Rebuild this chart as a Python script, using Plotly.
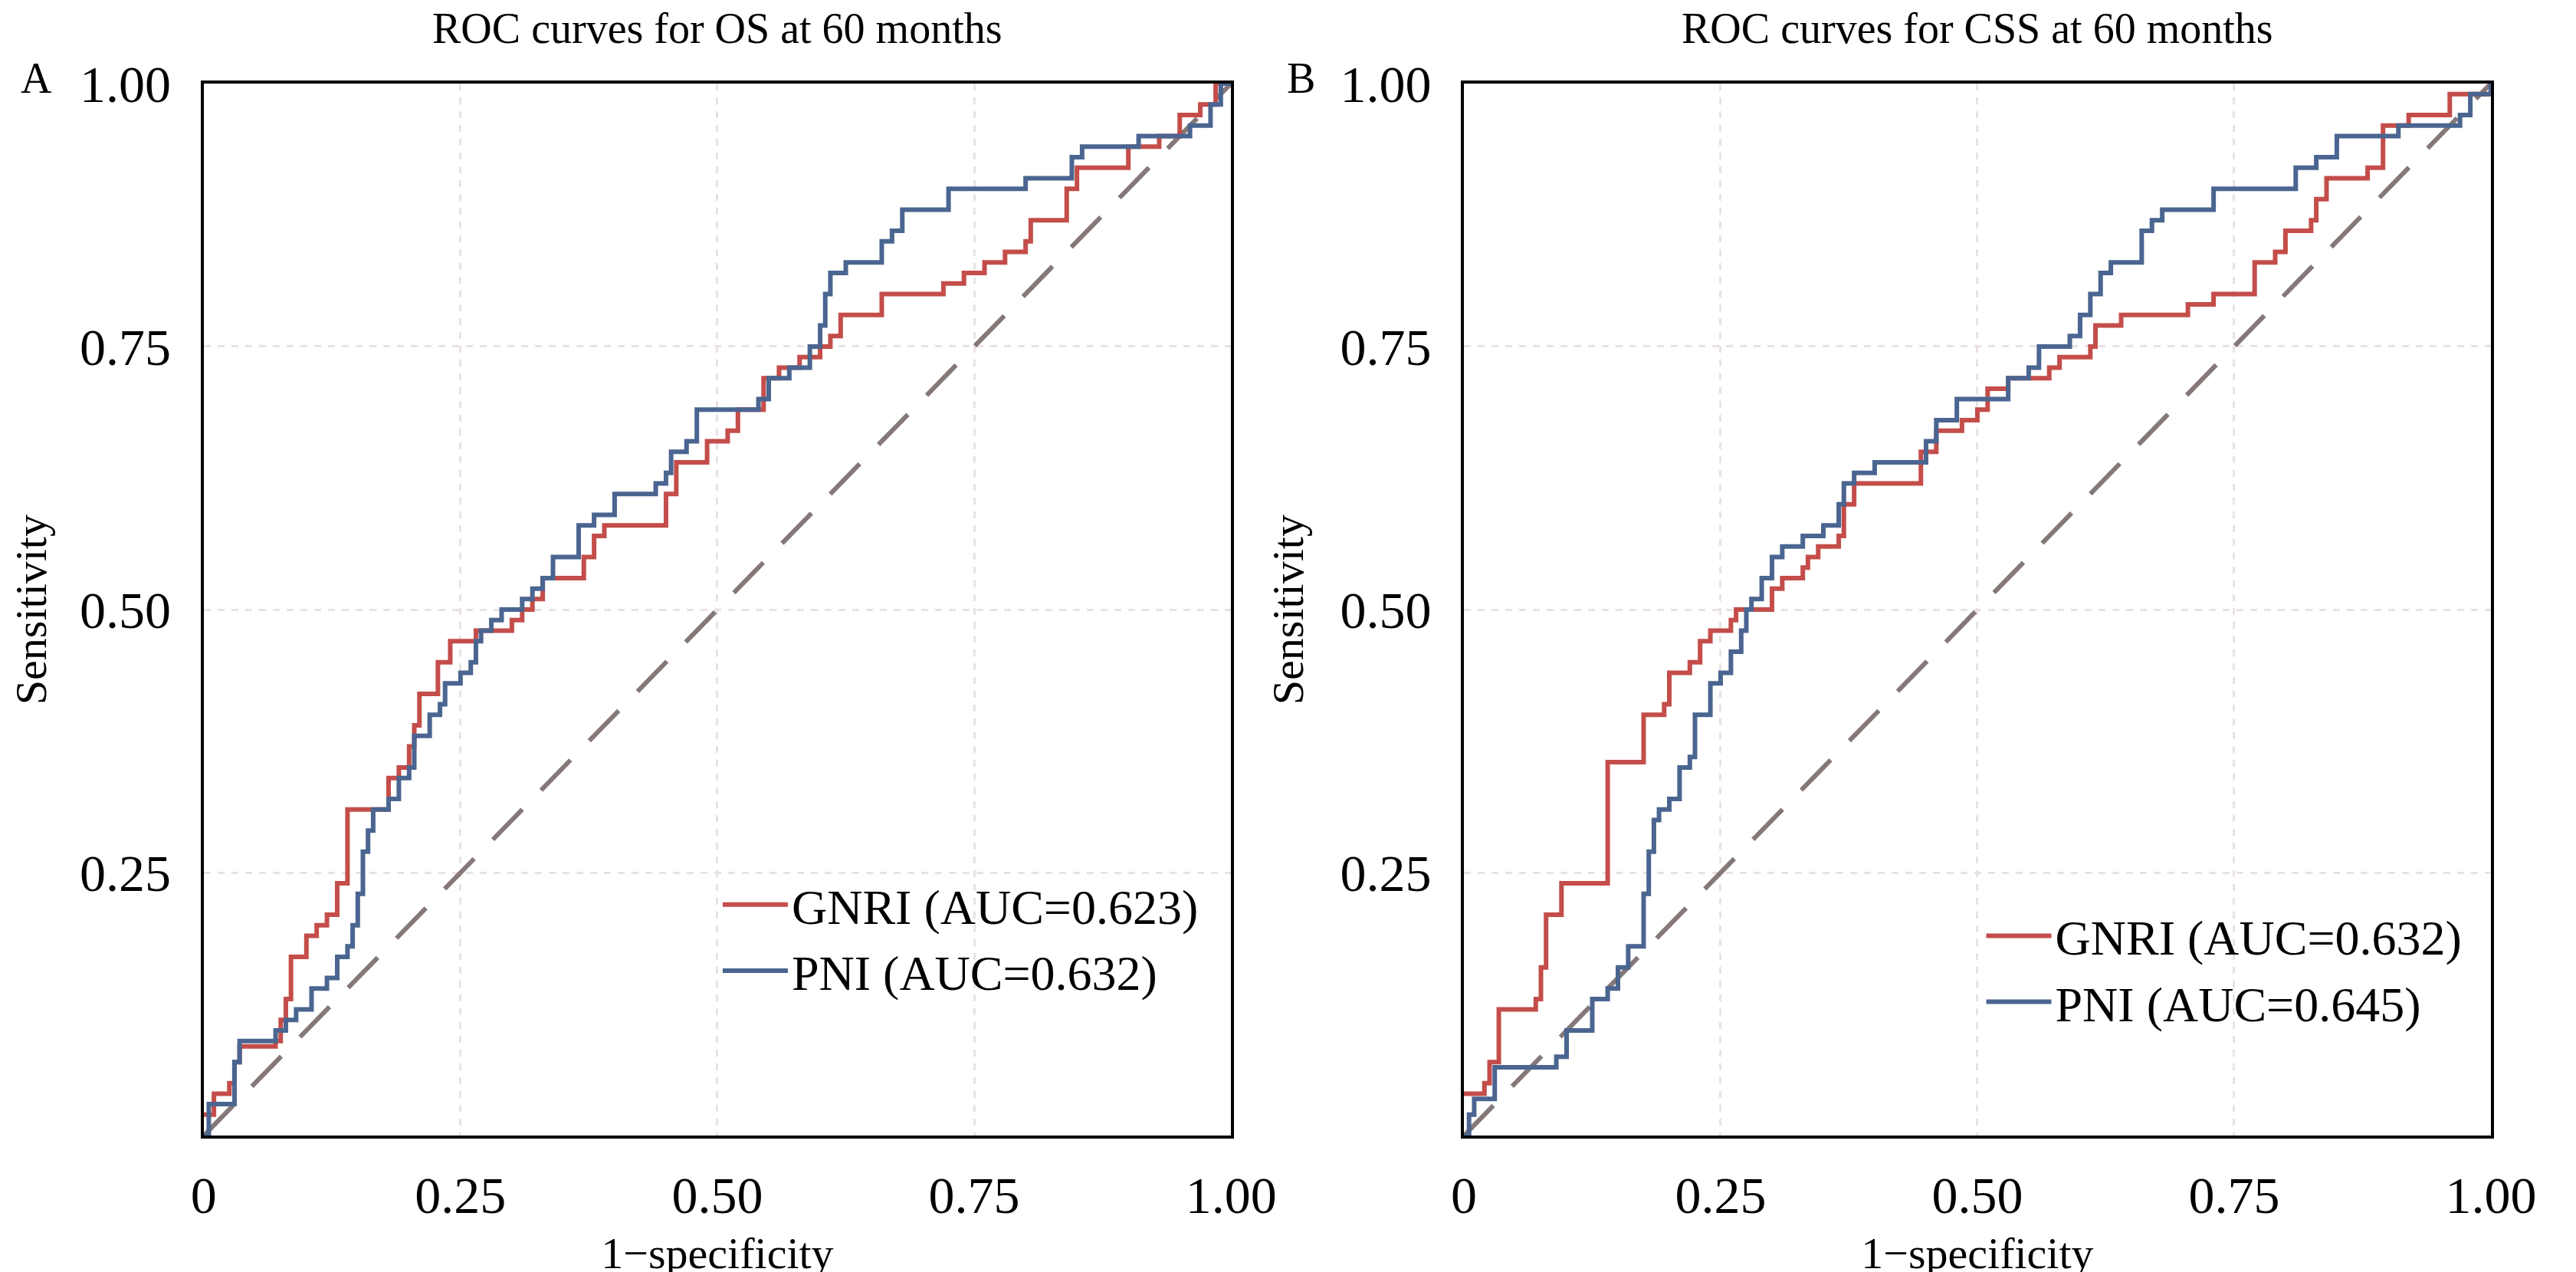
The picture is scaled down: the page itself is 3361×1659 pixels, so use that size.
import plotly.graph_objects as go
from plotly.subplots import make_subplots

# ROC curve corners (1-specificity, sensitivity)
os_gnri_x = [0, 0.01, 0.025, 0.03, 0.035, 0.06, 0.07, 0.075, 0.08, 0.085, 0.1, 0.1, 0.11, 0.12, 0.13, 0.13, 0.14, 0.14, 0.175,
             0.18, 0.19, 0.2, 0.205, 0.21, 0.225, 0.228, 0.24, 0.26, 0.265, 0.29, 0.3, 0.31, 0.32, 0.33, 0.365, 0.37, 0.38, 0.39,
             0.445, 0.45, 0.46, 0.48, 0.49, 0.51, 0.52, 0.54, 0.545, 0.56, 0.58, 0.6, 0.61, 0.62, 0.65, 0.66, 0.7, 0.72, 0.74,
             0.76, 0.78, 0.8, 0.805, 0.83, 0.84, 0.85, 0.89, 0.9, 0.93, 0.95, 0.97, 0.985, 1]
os_gnri_y = [0.02, 0.04, 0.05, 0.07, 0.085, 0.085, 0.09, 0.11, 0.13, 0.17, 0.17, 0.19, 0.2, 0.21, 0.21, 0.24, 0.24, 0.31, 0.31,
             0.34, 0.35, 0.37, 0.39, 0.42, 0.42, 0.45, 0.47, 0.47, 0.48, 0.48, 0.49, 0.5, 0.51, 0.53, 0.53, 0.55, 0.57, 0.58,
             0.58, 0.61, 0.64, 0.64, 0.66, 0.67, 0.69, 0.69, 0.72, 0.73, 0.74, 0.75, 0.76, 0.78, 0.78, 0.8, 0.8, 0.81, 0.82,
             0.83, 0.84, 0.85, 0.87, 0.87, 0.9, 0.92, 0.92, 0.94, 0.95, 0.97, 0.98, 1.0, 1.0]

os_pni_x = [0, 0.005, 0.03, 0.03, 0.035, 0.06, 0.07, 0.08, 0.09, 0.1, 0.105, 0.12, 0.13, 0.14, 0.145, 0.15, 0.155, 0.16, 0.165,
            0.18, 0.19, 0.2, 0.205, 0.22, 0.23, 0.235, 0.25, 0.26, 0.265, 0.27, 0.28, 0.29, 0.31, 0.32, 0.33, 0.34, 0.36, 0.365,
            0.38, 0.4, 0.43, 0.44, 0.45, 0.455, 0.47, 0.48, 0.52, 0.54, 0.55, 0.57, 0.59, 0.6, 0.605, 0.61, 0.625, 0.65, 0.66,
            0.67, 0.68, 0.72, 0.725, 0.78, 0.8, 0.84, 0.845, 0.855, 0.9, 0.91, 0.95, 0.96, 0.98, 0.99, 1]
os_pni_y = [0, 0.03, 0.03, 0.07, 0.09, 0.09, 0.1, 0.11, 0.12, 0.12, 0.14, 0.15, 0.17, 0.18, 0.2, 0.23, 0.27, 0.29, 0.31,
            0.32, 0.34, 0.35, 0.38, 0.4, 0.41, 0.43, 0.44, 0.45, 0.47, 0.48, 0.49, 0.5, 0.51, 0.52, 0.53, 0.55, 0.55, 0.58,
            0.59, 0.61, 0.61, 0.62, 0.63, 0.65, 0.66, 0.69, 0.69, 0.7, 0.72, 0.73, 0.75, 0.77, 0.8, 0.82, 0.83, 0.83, 0.85,
            0.86, 0.88, 0.88, 0.9, 0.9, 0.91, 0.91, 0.93, 0.94, 0.94, 0.95, 0.95, 0.96, 0.98, 1.0, 1.0]

css_gnri_x = [0, 0.02, 0.025, 0.034, 0.055, 0.07, 0.075, 0.08, 0.095, 0.14, 0.14, 0.175, 0.175, 0.195, 0.2, 0.22, 0.23, 0.24,
              0.26, 0.265, 0.29, 0.3, 0.31, 0.33, 0.335, 0.345, 0.365, 0.37, 0.38, 0.44, 0.445, 0.46, 0.485, 0.5, 0.51, 0.53,
              0.57, 0.58, 0.61, 0.615, 0.64, 0.705, 0.73, 0.765, 0.77, 0.79, 0.8, 0.825, 0.83, 0.84, 0.88, 0.895, 0.92, 0.96, 1]
css_gnri_y = [0.04, 0.05, 0.07, 0.12, 0.12, 0.13, 0.16, 0.21, 0.24, 0.25, 0.355, 0.36, 0.4, 0.41, 0.44, 0.45, 0.47, 0.48,
              0.49, 0.5, 0.5, 0.52, 0.53, 0.54, 0.55, 0.56, 0.57, 0.6, 0.62, 0.62, 0.65, 0.67, 0.68, 0.69, 0.71, 0.72,
              0.73, 0.74, 0.75, 0.77, 0.78, 0.79, 0.8, 0.8, 0.83, 0.84, 0.86, 0.87, 0.89, 0.91, 0.92, 0.96, 0.97, 0.99, 1.0]

css_pni_x = [0, 0.005, 0.01, 0.03, 0.03, 0.08, 0.09, 0.1, 0.1, 0.12, 0.125, 0.14, 0.15, 0.16, 0.17, 0.175, 0.18, 0.185, 0.19,
             0.2, 0.21, 0.22, 0.225, 0.24, 0.25, 0.26, 0.27, 0.275, 0.28, 0.29, 0.3, 0.31, 0.33, 0.35, 0.365, 0.37, 0.38, 0.4,
             0.44, 0.45, 0.46, 0.48, 0.52, 0.53, 0.55, 0.56, 0.59, 0.6, 0.61, 0.62, 0.63, 0.65, 0.66, 0.67, 0.68, 0.72, 0.73,
             0.8, 0.81, 0.83, 0.85, 0.9, 0.91, 0.97, 0.98, 1]
css_pni_y = [0, 0.02, 0.035, 0.035, 0.065, 0.065, 0.075, 0.075, 0.1, 0.1, 0.13, 0.14, 0.16, 0.18, 0.18, 0.23, 0.27, 0.3, 0.31,
             0.32, 0.35, 0.36, 0.4, 0.43, 0.44, 0.46, 0.48, 0.5, 0.51, 0.53, 0.55, 0.56, 0.57, 0.58, 0.6, 0.62, 0.63, 0.64,
             0.64, 0.66, 0.68, 0.7, 0.7, 0.72, 0.73, 0.75, 0.76, 0.78, 0.8, 0.82, 0.83, 0.83, 0.86, 0.87, 0.88, 0.88, 0.9,
             0.9, 0.92, 0.93, 0.95, 0.95, 0.96, 0.97, 0.99, 1.0]

tick_vals = [0, 0.25, 0.5, 0.75, 1.0]
x_tick_text = ["0", "0.25", "0.50", "0.75", "1.00"]
y_tick_text = ["", "0.25", "0.50", "0.75", "1.00"]

panels = [
    ("A", "ROC curves for OS at 60 months", os_gnri_x, os_gnri_y, "GNRI (AUC=0.623)", os_pni_x, os_pni_y, "PNI (AUC=0.632)"),
    ("B", "ROC curves for CSS at 60 months", css_gnri_x, css_gnri_y, "GNRI (AUC=0.632)", css_pni_x, css_pni_y, "PNI (AUC=0.645)"),
]

RED = "#C44D4A"
BLUE = "#4A6590"
FONT = "Liberation Serif"

fig = make_subplots(rows=1, cols=2)

for i, (letter, title, gx, gy, gname, px_, py_, pname) in enumerate(panels):
    col = i + 1
    leg = "legend" if i == 0 else "legend2"
    # chance line
    fig.add_trace(go.Scatter(x=[0, 1], y=[0, 1], mode="lines", showlegend=False,
                             line=dict(color="#857878", width=6, dash="55px,35px")), row=1, col=col)
    fig.add_trace(go.Scatter(x=gx, y=gy, mode="lines", name=gname, legend=leg,
                             line=dict(color=RED, width=6, shape="hv")), row=1, col=col)
    fig.add_trace(go.Scatter(x=px_, y=py_, mode="lines", name=pname, legend=leg,
                             line=dict(color=BLUE, width=6, shape="hv")), row=1, col=col)

domains = [[0.0733, 0.4815], [0.574, 0.982]]
for i in range(2):
    fig.update_xaxes(domain=domains[i], range=[0, 1], tickvals=tick_vals, ticktext=x_tick_text,
                     showline=True, linecolor="black", linewidth=4, mirror=True, ticks="", ticklabelstandoff=15,
                     showgrid=True, gridcolor="#EAE2E2", griddash="dash", gridwidth=3, zeroline=False,
                     title=dict(text="1−specificity", standoff=25), row=1, col=i + 1)
    fig.update_yaxes(domain=[0.1145, 0.9606], range=[0, 1], tickvals=tick_vals, ticktext=y_tick_text,
                     showline=True, linecolor="black", linewidth=4, mirror=True, ticks="", ticklabelstandoff=25,
                     showgrid=True, gridcolor="#EAE2E2", griddash="dash", gridwidth=3, zeroline=False,
                     title=dict(text="Sensitivity", standoff=30), row=1, col=i + 1)

annotations = []
for i, (letter, title, *_rest) in enumerate(panels):
    mid = sum(domains[i]) / 2
    annotations.append(dict(text=title, x=mid, y=1.005, xref="paper", yref="paper", xanchor="center", yanchor="middle",
                            showarrow=False, font=dict(size=56, family=FONT, color="black")))
    annotations.append(dict(text=letter, x=0.0 if i == 0 else 0.503, y=0.965, xref="paper", yref="paper",
                            xanchor="left", yanchor="middle", showarrow=False,
                            font=dict(size=56, family=FONT, color="black")))

fig.update_layout(
    width=3361, height=1659,
    margin=dict(l=0, r=0, t=0, b=0),
    plot_bgcolor="white", paper_bgcolor="white",
    font=dict(family=FONT, size=68, color="black"),
    annotations=annotations,
    legend=dict(x=0.278, y=0.33, xanchor="left", yanchor="top", bgcolor="rgba(0,0,0,0)",
                font=dict(size=64), itemwidth=85, tracegroupgap=0),
    legend2=dict(x=0.780, y=0.305, xanchor="left", yanchor="top", bgcolor="rgba(0,0,0,0)",
                 font=dict(size=64), itemwidth=85, tracegroupgap=0),
)
fig.update_xaxes(title_font=dict(size=58))
fig.update_yaxes(title_font=dict(size=58))

fig.write_html("out.html")
